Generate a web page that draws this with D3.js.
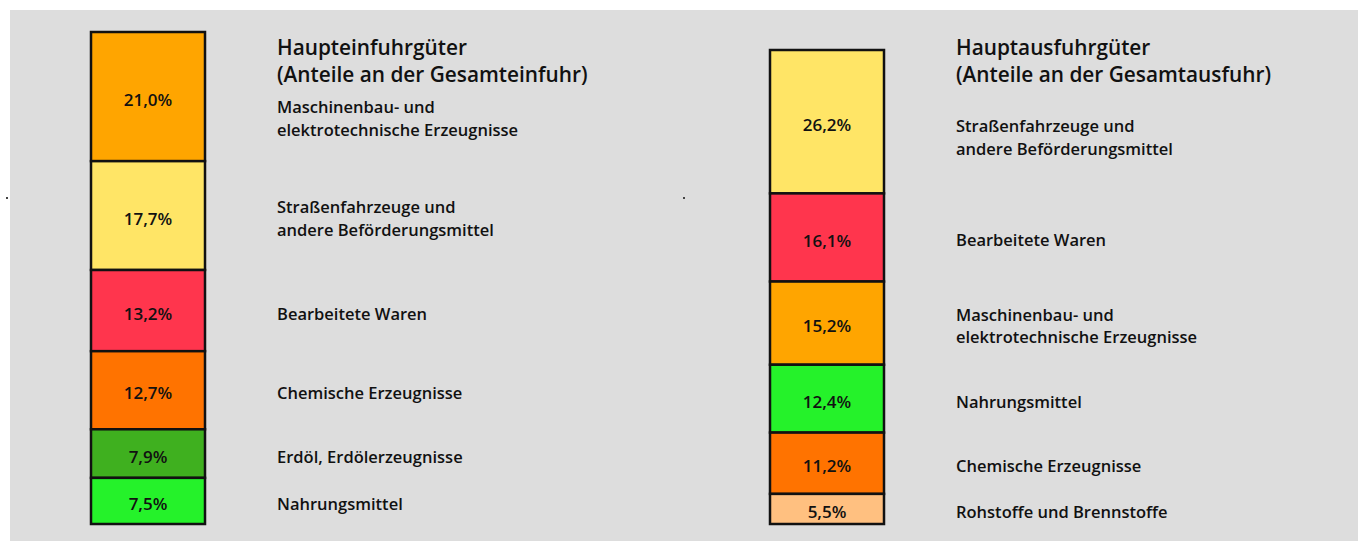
<!DOCTYPE html>
<html lang="de">
<head>
<meta charset="utf-8">
<title>Haupteinfuhr- und Hauptausfuhrgüter</title>
<script src="https://d3js.org/d3.v7.js"></script>
<style>
  body { margin: 0; background: #fff; }
  text { font-family: "Open Sans", "Noto Sans", sans-serif; fill: #111; }
</style>
</head>
<body>
<div id="chart"></div>
<script>
// import shares (top to bottom)
const importGoods = ["Maschinenbau- und\nelektrotechnische Erzeugnisse", "Straßenfahrzeuge und\nandere Beförderungsmittel",
  "Bearbeitete Waren", "Chemische Erzeugnisse", "Erdöl, Erdölerzeugnisse", "Nahrungsmittel"];
const importShares = [21.0, 17.7, 13.2, 12.7, 7.9, 7.5];
const importColors = ["#ffa500", "#ffe566", "#ff354d", "#ff7300", "#3fb01f", "#25f22a"];

// export shares (top to bottom)
const exportGoods = ["Straßenfahrzeuge und\nandere Beförderungsmittel", "Bearbeitete Waren",
  "Maschinenbau- und\nelektrotechnische Erzeugnisse", "Nahrungsmittel", "Chemische Erzeugnisse", "Rohstoffe und Brennstoffe"];
const exportShares = [26.2, 16.1, 15.2, 12.4, 11.2, 5.5];
const exportColors = ["#ffe566", "#ff354d", "#ffa500", "#25f22a", "#ff7300", "#ffc080"];

const titles = [["Haupteinfuhrgüter", "(Anteile an der Gesamteinfuhr)"], ["Hauptausfuhrgüter", "(Anteile an der Gesamtausfuhr)"]];

const W = 1359, H = 541;
const svg = d3.select("#chart").append("svg").attr("width", W).attr("height", H);

svg.append("rect").attr("x", 10).attr("y", 10).attr("width", 1348).attr("height", H - 10).attr("fill", "#dddddd");
// stray dots in the original
svg.append("rect").attr("x", 6).attr("y", 197).attr("width", 2).attr("height", 2).attr("fill", "#444");
svg.append("rect").attr("x", 683).attr("y", 197).attr("width", 2).attr("height", 2).attr("fill", "#444");

const panels = [
  { goods: importGoods, shares: importShares, colors: importColors, title: titles[0], barX: 91, top: 32, labelX: 277, firstShift: 19 },
  { goods: exportGoods, shares: exportShares, colors: exportColors, title: titles[1], barX: 770, top: 50, labelX: 956, firstShift: 13 }
];
const barW = 114, bottom = 524;

panels.forEach(p => {
  const total = d3.sum(p.shares);
  const y = d3.scaleLinear().domain([0, total]).range([p.top, bottom]);
  let cum = 0;
  const rows = p.shares.map((v, i) => {
    const r = { v, good: p.goods[i], color: p.colors[i], y0: cum, y1: cum + v };
    cum += v;
    return r;
  });

  const g = svg.append("g");

  g.selectAll("rect.seg").data(rows).join("rect")
    .attr("class", "seg")
    .attr("x", p.barX).attr("width", barW)
    .attr("y", d => y(d.y0)).attr("height", d => y(d.y1) - y(d.y0))
    .attr("fill", d => d.color)
    .attr("stroke", "#111").attr("stroke-width", 2.5);

  g.selectAll("text.pct").data(rows).join("text")
    .attr("class", "pct")
    .attr("x", p.barX + barW / 2)
    .attr("y", d => (y(d.y0) + y(d.y1)) / 2 + 3)
    .attr("dy", "0.36em")
    .attr("text-anchor", "middle")
    .attr("font-size", 17).attr("font-weight", 600)
    .text(d => d.v.toFixed(1).replace(".", ",") + "%");

  // title
  g.append("text").attr("x", p.labelX).attr("y", 55)
    .attr("font-size", 20.8).attr("font-weight", 600)
    .selectAll("tspan").data(p.title).join("tspan")
    .attr("x", p.labelX).attr("dy", (d, i) => i ? 27 : 0)
    .text(d => d);

  // category labels
  const lineH = 22.5;
  g.selectAll("text.lab").data(rows).join("text")
    .attr("class", "lab")
    .attr("font-size", 16.5).attr("font-weight", 600)
    .each(function (d, i) {
      const lines = d.good.split("\n");
      const mid = (y(d.y0) + y(d.y1)) / 2 + 3 + (i === 0 ? p.firstShift : 0);
      const startY = mid - (lines.length - 1) * lineH / 2;
      d3.select(this).selectAll("tspan").data(lines).join("tspan")
        .attr("x", p.labelX)
        .attr("y", (l, k) => startY + k * lineH)
        .attr("dy", "0.36em")
        .text(l => l);
    });
});
</script>
</body>
</html>
